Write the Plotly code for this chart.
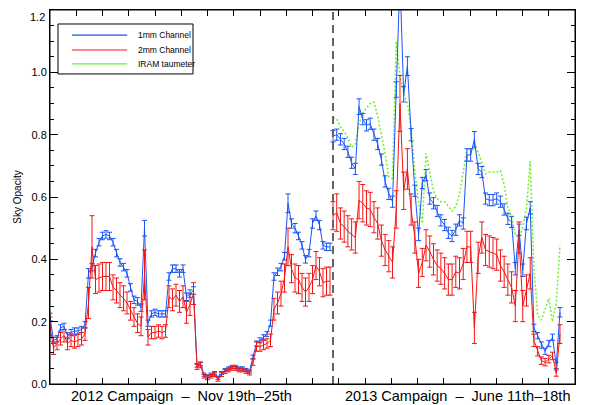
import plotly.graph_objects as go

# ---------------- data ----------------
# sample index along the time axis
n2012 = 81
n2013 = 62
x2012 = [i * 1.0 for i in range(n2012)]
x2013_start = 80.86
x2013_step = 1.063
x2013 = [x2013_start + j * x2013_step for j in range(n2013)]

blue2012 = [0.215, 0.14, 0.145, 0.18, 0.185, 0.155, 0.165, 0.17, 0.17, 0.175, 0.19,
            0.355, 0.375, 0.42, 0.455, 0.475, 0.48, 0.475, 0.455, 0.42, 0.39,
            0.375, 0.355, 0.31, 0.27, 0.265, 0.245, 0.50, 0.195, 0.225, 0.23,
            0.225, 0.225, 0.225, 0.345, 0.37, 0.37, 0.355, 0.37, 0.28, 0.29,
            0.30, 0.06, 0.065, 0.03, 0.025, 0.03, 0.035, 0.02, 0.035, 0.045,
            0.05, 0.055, 0.055, 0.05, 0.05, 0.045, 0.04, 0.087, 0.13, 0.14,
            0.15, 0.16, 0.195, 0.345, 0.36, 0.375, 0.41, 0.58, 0.515, 0.50,
            0.475, 0.445, 0.40, 0.42, 0.515, 0.54, 0.51, 0.445, 0.44, 0.44]
blue2012_err = [0.012, 0.01, 0.01, 0.01, 0.01, 0.01, 0.01, 0.01, 0.01, 0.01, 0.01,
                0.015, 0.012, 0.012, 0.012, 0.012, 0.012, 0.012, 0.012, 0.012, 0.012,
                0.012, 0.012, 0.012, 0.012, 0.012, 0.012, 0.025, 0.01, 0.01, 0.01,
                0.01, 0.01, 0.01, 0.012, 0.012, 0.012, 0.012, 0.012, 0.012, 0.012,
                0.012, 0.006, 0.006, 0.005, 0.005, 0.005, 0.005, 0.005, 0.005, 0.005,
                0.005, 0.005, 0.005, 0.005, 0.005, 0.005, 0.005, 0.006, 0.008, 0.008,
                0.008, 0.008, 0.01, 0.012, 0.012, 0.012, 0.012, 0.03, 0.015, 0.015,
                0.012, 0.012, 0.012, 0.012, 0.015, 0.015, 0.015, 0.012, 0.012, 0.012]

red2012 = [0.185, 0.115, 0.13, 0.145, 0.155, 0.13, 0.14, 0.135, 0.14, 0.145, 0.16,
           0.26, 0.44, 0.335, 0.34, 0.345, 0.345, 0.345, 0.31, 0.30, 0.285,
           0.275, 0.26, 0.235, 0.215, 0.195, 0.185, 0.35, 0.15, 0.165, 0.165,
           0.17, 0.165, 0.17, 0.28, 0.27, 0.285, 0.265, 0.28, 0.23, 0.255,
           0.29, 0.055, 0.06, 0.025, 0.02, 0.025, 0.03, 0.015, 0.03, 0.04,
           0.045, 0.05, 0.05, 0.045, 0.045, 0.04, 0.035, 0.07, 0.12, 0.12,
           0.125, 0.13, 0.14, 0.24, 0.26, 0.29, 0.34, 0.44, 0.37, 0.34,
           0.335, 0.31, 0.295, 0.31, 0.335, 0.38, 0.36, 0.325, 0.33, 0.33]
red2012_err = [0.03, 0.02, 0.02, 0.02, 0.02, 0.02, 0.02, 0.02, 0.02, 0.02, 0.02,
               0.05, 0.10, 0.045, 0.045, 0.045, 0.045, 0.045, 0.04, 0.04, 0.04,
               0.04, 0.035, 0.03, 0.03, 0.03, 0.03, 0.08, 0.025, 0.02, 0.02,
               0.02, 0.02, 0.02, 0.035, 0.035, 0.035, 0.035, 0.035, 0.035, 0.035,
               0.035, 0.008, 0.008, 0.006, 0.006, 0.006, 0.006, 0.006, 0.006, 0.006,
               0.006, 0.006, 0.006, 0.006, 0.006, 0.006, 0.006, 0.01, 0.015, 0.015,
               0.015, 0.015, 0.02, 0.035, 0.035, 0.04, 0.045, 0.06, 0.045, 0.045,
               0.045, 0.045, 0.045, 0.045, 0.045, 0.045, 0.045, 0.045, 0.045, 0.045]

blue2013 = [0.795, 0.80, 0.785, 0.77, 0.745, 0.71, 0.69, 0.89, 0.85, 0.83,
            0.835, 0.80, 0.77, 0.72, 0.65, 0.61, 0.585, 0.945, 1.30, 0.93,
            1.02, 0.80, 0.62, 0.48, 0.645, 0.67, 0.595, 0.58, 0.555, 0.525,
            0.51, 0.485, 0.475, 0.495, 0.525, 0.515, 0.735, 0.735, 0.785, 0.69,
            0.68, 0.595, 0.59, 0.59, 0.595, 0.585, 0.56, 0.53, 0.52, 0.37,
            0.495, 0.365, 0.515, 0.565, 0.18, 0.155, 0.125, 0.105, 0.13, 0.15,
            0.06, 0.23]
blue2013_err = [0.018, 0.018, 0.018, 0.018, 0.018, 0.018, 0.018, 0.025, 0.018, 0.018,
                0.018, 0.018, 0.018, 0.018, 0.018, 0.018, 0.018, 0.025, 0.03, 0.025,
                0.03, 0.02, 0.018, 0.02, 0.018, 0.018, 0.018, 0.018, 0.018, 0.018,
                0.018, 0.018, 0.018, 0.018, 0.018, 0.018, 0.02, 0.02, 0.025, 0.018,
                0.018, 0.018, 0.018, 0.018, 0.018, 0.018, 0.018, 0.018, 0.018, 0.02,
                0.018, 0.02, 0.02, 0.02, 0.012, 0.01, 0.01, 0.01, 0.01, 0.01,
                0.01, 0.015]

red2013 = [0.54, 0.55, 0.515, 0.505, 0.49, 0.48, 0.47, 0.59, 0.58, 0.565,
           0.56, 0.535, 0.515, 0.46, 0.43, 0.41, 0.39, 0.56, 0.90, 0.62,
           0.69, 0.56, 0.47, 0.355, 0.39, 0.445, 0.425, 0.40, 0.38, 0.37,
           0.355, 0.335, 0.335, 0.36, 0.355, 0.385, 0.44, 0.44, 0.18, 0.405,
           0.47, 0.43, 0.425, 0.42, 0.415, 0.38, 0.36, 0.335, 0.31, 0.25,
           0.47, 0.25, 0.30, 0.355, 0.14, 0.105, 0.075, 0.07, 0.08, 0.09,
           0.035, 0.16]
red2013_err = [0.045, 0.06, 0.05, 0.05, 0.05, 0.05, 0.05, 0.06, 0.06, 0.055,
               0.055, 0.05, 0.05, 0.05, 0.05, 0.05, 0.05, 0.06, 0.09, 0.06,
               0.065, 0.05, 0.05, 0.045, 0.045, 0.05, 0.05, 0.05, 0.05, 0.05,
               0.05, 0.05, 0.05, 0.05, 0.05, 0.05, 0.05, 0.05, 0.05, 0.05,
               0.05, 0.05, 0.05, 0.05, 0.05, 0.05, 0.05, 0.05, 0.05, 0.05,
               0.05, 0.05, 0.05, 0.05, 0.02, 0.015, 0.012, 0.012, 0.012, 0.012,
               0.01, 0.03]

green2013 = [0.855, 0.85, 0.825, 0.81, 0.79, 0.76, 0.77, 0.835, 0.87, 0.885,
             0.90, 0.905, 0.86, 0.80, 0.74, 0.665, 0.66, 1.10, 0.99, 0.93,
             0.90, 0.82, 0.68, 0.58, 0.515, 0.74, 0.68, 0.62, 0.595, 0.585,
             0.585, 0.57, 0.555, 0.57, 0.61, 0.68, 0.755, 0.755, 0.755, 0.745,
             0.71, 0.675, 0.68, 0.68, 0.68, 0.685, 0.64, 0.565, 0.535, 0.48,
             0.47, 0.50, 0.565, 0.715, 0.375, 0.22, 0.205, 0.24, 0.275, 0.20,
             0.26, 0.445]

y_tick_vals = [0.0, 0.2, 0.4, 0.6, 0.8, 1.0, 1.2]
y_tick_text = ["0.0", "0.2", "0.4", "0.6", "0.8", "1.0", "1.2"]
campaign_labels = ["2012 Campaign  \u2013  Nov 19th\u201325th",
                   "2013 Campaign  \u2013  June 11th\u201318th"]
campaign_label_x = [37.5, 116.5]
campaign_split = 80.86
series_names = ["1mm Channel", "2mm Channel", "IRAM taumeter"]

# ---------------- styling ----------------
BLUE = "rgb(25,85,245)"
RED = "rgb(245,20,20)"
GREEN = "rgb(110,240,40)"
FONT = "Liberation Sans, Arial, Helvetica, sans-serif"
GREEN_DASH = "2px,2px"

fig = go.Figure()

# IRAM taumeter (dotted, underneath)
fig.add_trace(go.Scatter(x=x2013, y=green2013, mode="lines",
                         line=dict(color=GREEN, width=1.5, dash=GREEN_DASH),
                         name=series_names[2], showlegend=False))


def err(arr, color):
    return dict(type="data", array=arr, visible=True, color=color,
                thickness=1, width=2.5)


fig.add_trace(go.Scatter(x=x2012, y=blue2012, mode="lines",
                         line=dict(color=BLUE, width=1),
                         error_y=err(blue2012_err, BLUE),
                         name=series_names[0], showlegend=False))
fig.add_trace(go.Scatter(x=x2013, y=blue2013, mode="lines",
                         line=dict(color=BLUE, width=1),
                         error_y=err(blue2013_err, BLUE),
                         name=series_names[0], showlegend=False))
fig.add_trace(go.Scatter(x=x2012, y=red2012, mode="lines",
                         line=dict(color=RED, width=1),
                         error_y=err(red2012_err, RED),
                         name=series_names[1], showlegend=False))
fig.add_trace(go.Scatter(x=x2013, y=red2013, mode="lines",
                         line=dict(color=RED, width=1),
                         error_y=err(red2013_err, RED),
                         name=series_names[1], showlegend=False))

# campaign divider
fig.add_shape(type="line", xref="x", yref="paper",
              x0=campaign_split, x1=campaign_split, y0=0, y1=1,
              line=dict(color="rgb(100,100,100)", width=2, dash="8px,5px"))

# plot frame
fig.add_shape(type="rect", xref="paper", yref="paper", x0=0, x1=1, y0=0, y1=1,
              line=dict(color="black", width=1), fillcolor="rgba(0,0,0,0)", layer="above")

# legend box (drawn like the original IDL legend)
leg_colors = [BLUE, RED, GREEN]
leg_y = [0.933, 0.893, 0.856]
fig.add_shape(type="rect", xref="paper", yref="paper", x0=0.0152, x1=0.2724,
              y0=0.829, y1=0.9626, line=dict(color="black", width=1),
              fillcolor="white", layer="above")
for name, col, yy in zip(series_names, leg_colors, leg_y):
    fig.add_shape(type="line", xref="paper", yref="paper", x0=0.042, x1=0.147,
                  y0=yy, y1=yy, line=dict(color=col, width=1.2), layer="above")
    fig.add_annotation(x=0.164, y=yy, xref="paper", yref="paper", text=name,
                       showarrow=False, xanchor="left", yanchor="middle",
                       font=dict(family=FONT, size=8.5, color="black"))

for lbl, xc in zip(campaign_labels, campaign_label_x):
    fig.add_annotation(x=xc, xref="x", y=-0.032, yref="paper",
                       text=lbl, showarrow=False, xanchor="center", yanchor="middle",
                       font=dict(family=FONT, size=14.5, color="black"))

# the top tick label sits at the very edge of the page, so it is placed just below its tick
fig.add_annotation(x=0, xref="paper", y=y_tick_vals[-1], yref="y", text=y_tick_text[-1],
                   showarrow=False, xanchor="right", yanchor="top", xshift=-3, yshift=1,
                   font=dict(family=FONT, size=11, color="black"))

# the page body adds an 8px offset; size the figure so the plot lands where the original is
fig.update_layout(
    width=583, height=397,
    margin=dict(l=42, r=16, t=2, b=21),
    paper_bgcolor="white", plot_bgcolor="white",
    font=dict(family=FONT, color="black"),
    showlegend=False,
)

fig.update_xaxes(range=[0, 150], showgrid=False, zeroline=False,
                 showline=True, linecolor="black", linewidth=1, mirror="ticks",
                 ticks="inside", tick0=0, dtick=37.5, ticklen=6, tickcolor="black",
                 showticklabels=False,
                 minor=dict(dtick=7.5, ticks="inside", ticklen=6, tickcolor="black"))
fig.update_yaxes(range=[0, 1.2], showgrid=False, zeroline=False,
                 showline=True, linecolor="black", linewidth=1, mirror="ticks",
                 ticks="inside", tickmode="array", tickvals=y_tick_vals,
                 ticktext=y_tick_text[:-1] + [""],
                 ticklen=8, tickcolor="black",
                 tickfont=dict(size=11, family=FONT),
                 minor=dict(tick0=0, dtick=0.05, ticks="inside", ticklen=4, tickcolor="black"),
                 title=dict(text="Sky Opacity", font=dict(size=10, family=FONT), standoff=8))

fig.write_html("out.html")
